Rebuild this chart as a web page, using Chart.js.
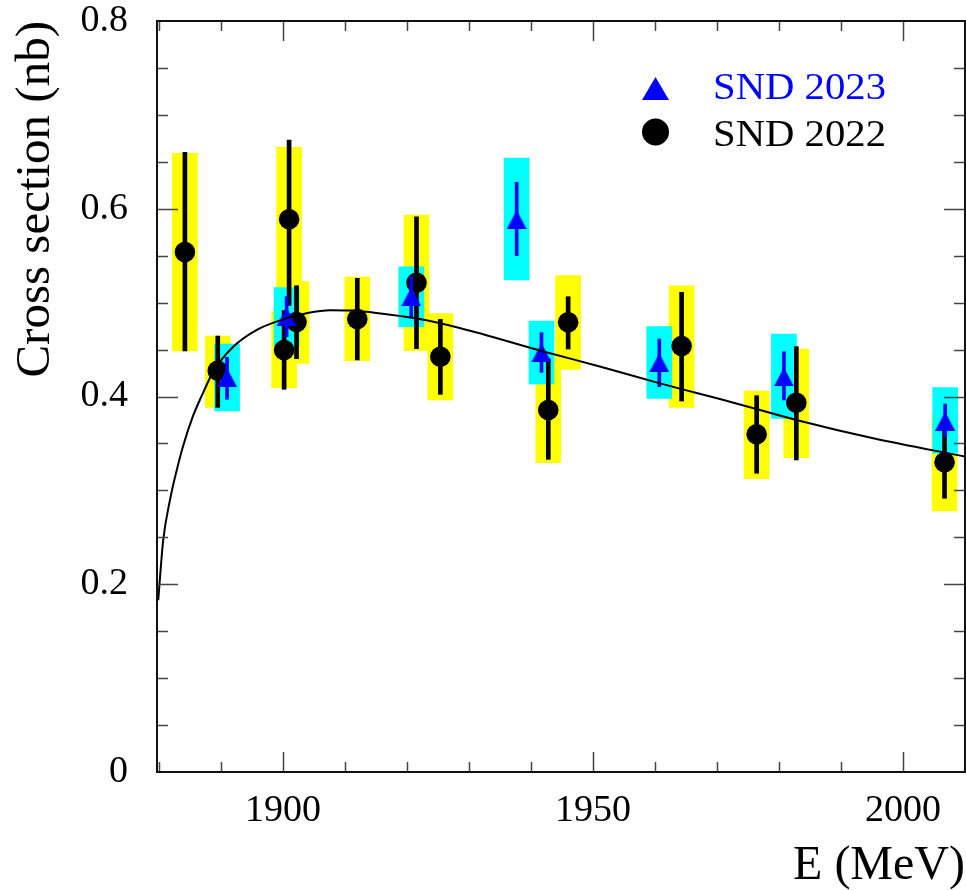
<!DOCTYPE html>
<html>
<head>
<meta charset="utf-8">
<script src="https://cdn.jsdelivr.net/npm/chart.js@4/dist/chart.umd.min.js"></script>
<style>
html,body{margin:0;padding:0;background:#fff;}
#wrap{width:966px;height:890px;}
</style>
</head>
<body>
<div id="wrap"><canvas id="c" width="966" height="890"></canvas></div>
<script>
// ---------------- DATA ----------------
// SND 2022 (black circles, yellow boxes)
const energy2022   = [1884.2, 1889.5, 1900.2, 1901.0, 1902.2, 1912.0, 1921.55, 1925.4, 1942.8, 1946.0, 1964.3, 1976.4, 1982.8, 2006.7];
const sigma2022    = [0.554, 0.4275, 0.4495, 0.5888, 0.4794, 0.4826, 0.5212, 0.4424, 0.3856, 0.4790, 0.4538, 0.3597, 0.3934, 0.3299];
const statLow2022  = [0.4485, 0.3884, 0.4077, 0.497, 0.4403, 0.4389, 0.4509, 0.4023, 0.3331, 0.4506, 0.3952, 0.3182, 0.3324, 0.2916];
const statHigh2022 = [0.660, 0.4644, 0.4915, 0.6732, 0.518, 0.5259, 0.5915, 0.4822, 0.440, 0.5063, 0.511, 0.4009, 0.4531, 0.3643];
const boxLow2022   = [0.4485, 0.3884, 0.4094, 0.512, 0.4353, 0.4381, 0.4488, 0.3963, 0.3295, 0.4289, 0.3885, 0.3125, 0.3348, 0.278];
const boxHigh2022  = [0.659, 0.4644, 0.4904, 0.6654, 0.5223, 0.5273, 0.5933, 0.4882, 0.4417, 0.5287, 0.518, 0.4059, 0.4506, 0.381];

// SND 2023 (blue triangles, cyan boxes)
const energy2023   = [1891.0, 1900.6, 1920.7, 1937.7, 1941.7, 1960.7, 1980.8, 2006.8];
const sigma2023    = [0.420, 0.485, 0.506, 0.5883, 0.4467, 0.436, 0.4208, 0.3736];
const statLow2023  = [0.397, 0.4637, 0.485, 0.550, 0.4258, 0.4104, 0.3963, 0.3575];
const statHigh2023 = [0.4417, 0.5063, 0.5276, 0.6281, 0.468, 0.4613, 0.4477, 0.392];
const boxLow2023   = [0.3846, 0.4538, 0.4744, 0.5241, 0.4133, 0.398, 0.3767, 0.3395];
const boxHigh2023  = [0.4559, 0.5159, 0.538, 0.654, 0.4804, 0.4744, 0.4666, 0.4094];

// Fit curve
const fitEnergy = [1879.9, 1880.7, 1881.8, 1882.9, 1883.9, 1885.5, 1887.2, 1888.8, 1892.0, 1895.8, 1900.0, 1904.0, 1907.6, 1911.0, 1915.1, 1921.6, 1928.5, 1942.0, 1951.1, 1960.8, 1972.1, 1982.8, 1995.2, 2010.0];
const fitSigma  = [0.183, 0.247, 0.290, 0.322, 0.347, 0.379, 0.405, 0.427, 0.453, 0.471, 0.482, 0.489, 0.492, 0.4915, 0.489, 0.483, 0.473, 0.448, 0.432, 0.414, 0.3945, 0.375, 0.3555, 0.336];

// Ticks
const xTickValues = [1900, 1950, 2000];
const xTickLabels = ['1900', '1950', '2000'];
const yTickValues = [0, 0.2, 0.4, 0.6, 0.8];
const yTickLabels = ['0', '0.2', '0.4', '0.6', '0.8'];
const legendLabels = ['SND 2023', 'SND 2022'];

// ---------------- STYLE ----------------
const FONT = "'Liberation Serif', 'Times New Roman', serif";
const X_MIN = 1879.7, X_MAX = 2010, Y_MIN = 0, Y_MAX = 0.8;

function makeTriangle(w, h, color) {
  const cv = document.createElement('canvas');
  cv.width = w; cv.height = h;
  const c = cv.getContext('2d');
  c.fillStyle = color;
  c.beginPath();
  c.moveTo(w / 2, 0);
  c.lineTo(w, h);
  c.lineTo(0, h);
  c.closePath();
  c.fill();
  return cv;
}
const triMarker = makeTriangle(20, 19, '#0000ff');

const pts = (xs, ys) => xs.map((x, i) => ({x: x, y: ys[i]}));
const ranges = (xs, lo, hi) => xs.map((x, i) => ({x: x, y: [lo[i], hi[i]]}));

const framePlugin = {
  id: 'frame',
  afterDraw(chart) {
    const {ctx, chartArea: a, scales: {x, y}} = chart;
    ctx.save();
    ctx.strokeStyle = '#444';
    ctx.lineWidth = 1.5;
    ctx.beginPath();
    for (let v = 1880; v <= 2010; v += 10) {
      const major = xTickValues.includes(v);
      const len = major ? 20 : 10;
      const px = Math.round(x.getPixelForValue(v)) + 0.5;
      if (px < a.left + 1 || px > a.right - 1) continue;
      ctx.moveTo(px, a.bottom); ctx.lineTo(px, a.bottom - len);
      ctx.moveTo(px, a.top); ctx.lineTo(px, a.top + len);
    }
    for (let k = 1; k < 16; k++) {
      const v = k * 0.05;
      const major = k % 4 === 0;
      const len = major ? 21 : 11;
      const py = Math.round(y.getPixelForValue(v)) + 0.5;
      ctx.moveTo(a.left, py); ctx.lineTo(a.left + len, py);
      ctx.moveTo(a.right, py); ctx.lineTo(a.right - len, py);
    }
    ctx.stroke();
    ctx.strokeStyle = '#111';
    ctx.lineWidth = 2;
    ctx.strokeRect(a.left, a.top, a.right - a.left, a.bottom - a.top);
    ctx.restore();
  }
};

const legendPlugin = {
  id: 'customLegend',
  afterDraw(chart) {
    const ctx = chart.ctx;
    ctx.save();
    ctx.fillStyle = '#0000ff';
    ctx.beginPath();
    ctx.moveTo(655.5, 77);
    ctx.lineTo(669, 100);
    ctx.lineTo(642, 100);
    ctx.closePath();
    ctx.fill();
    ctx.fillStyle = '#000';
    ctx.beginPath();
    ctx.arc(655.5, 132, 13.5, 0, Math.PI * 2);
    ctx.fill();
    ctx.font = '37px ' + FONT;
    ctx.textBaseline = 'alphabetic';
    ctx.textAlign = 'left';
    ctx.save();
    ctx.translate(713, 99.3); ctx.scale(1.1, 1);
    ctx.fillStyle = '#0000ff';
    ctx.fillText(legendLabels[0], 0, 0);
    ctx.restore();
    ctx.save();
    ctx.translate(713, 146); ctx.scale(1.1, 1);
    ctx.fillStyle = '#000';
    ctx.fillText(legendLabels[1], 0, 0);
    ctx.restore();
    ctx.restore();
  }
};

new Chart(document.getElementById('c'), {
  type: 'scatter',
  data: {
    datasets: [
      { type: 'line', label: 'fit', data: pts(fitEnergy, fitSigma), borderColor: '#000', borderWidth: 2,
        pointRadius: 0, fill: false, cubicInterpolationMode: 'monotone', order: 0 },
      { type: 'scatter', label: legendLabels[0], data: pts(energy2023, sigma2023), pointStyle: triMarker,
        pointRadius: 10, order: 1 },
      { type: 'bar', label: 'stat 2023', data: ranges(energy2023, statLow2023, statHigh2023),
        backgroundColor: '#0000ff', barThickness: 3, grouped: false, borderWidth: 0, order: 2 },
      { type: 'scatter', label: legendLabels[1], data: pts(energy2022, sigma2022), pointStyle: 'circle',
        pointRadius: 10.3, backgroundColor: '#000', borderWidth: 0, order: 3 },
      { type: 'bar', label: 'stat 2022', data: ranges(energy2022, statLow2022, statHigh2022),
        backgroundColor: '#000', barThickness: 4, grouped: false, borderWidth: 0, order: 4 },
      { type: 'bar', label: 'box 2023', data: ranges(energy2023, boxLow2023, boxHigh2023),
        backgroundColor: '#00ffff', barThickness: 25, grouped: false, borderWidth: 0, order: 5 },
      { type: 'bar', label: 'box 2022', data: ranges(energy2022, boxLow2022, boxHigh2022),
        backgroundColor: '#ffff00', barThickness: 25, grouped: false, borderWidth: 0, order: 6 }
    ]
  },
  options: {
    responsive: false,
    animation: false,
    devicePixelRatio: 1,
    layout: { padding: { top: 21, right: 1, left: 0, bottom: 0 }, autoPadding: false },
    plugins: { legend: { display: false }, tooltip: { enabled: false } },
    scales: {
      x: {
        type: 'linear', min: X_MIN, max: X_MAX, offset: false,
        grid: { display: false, drawTicks: false, offset: false },
        border: { display: false },
        afterBuildTicks: s => { s.ticks = xTickValues.map(v => ({ value: v })); },
        afterFit: s => { s.height = 118; s.paddingLeft = 0; s.paddingRight = 0; },
        ticks: { font: { family: FONT, size: 38 }, color: '#000', padding: 16, maxRotation: 0, autoSkip: false,
                 callback: (v, i) => xTickLabels[i] },
        title: { display: true, text: 'E (MeV)', align: 'end', color: '#000',
                 font: { family: FONT, size: 48, lineHeight: 1 }, padding: { top: 0, bottom: 0 } }
      },
      y: {
        type: 'linear', min: Y_MIN, max: Y_MAX, offset: false,
        grid: { display: false, drawTicks: false },
        border: { display: false },
        afterBuildTicks: s => { s.ticks = yTickValues.map(v => ({ value: v })); },
        afterFit: s => { s.width = 157; s.paddingTop = 0; s.paddingBottom = 0; },
        ticks: { font: { family: FONT, size: 38 }, color: '#000', padding: 29, autoSkip: false,
                 callback: (v, i) => yTickLabels[i] },
        title: { display: true, text: 'Cross section (nb)', align: 'end', color: '#000',
                 font: { family: FONT, size: 49, lineHeight: 1 }, padding: { top: 12, bottom: 0 } }
      }
    }
  },
  plugins: [framePlugin, legendPlugin]
});
</script>
</body>
</html>
